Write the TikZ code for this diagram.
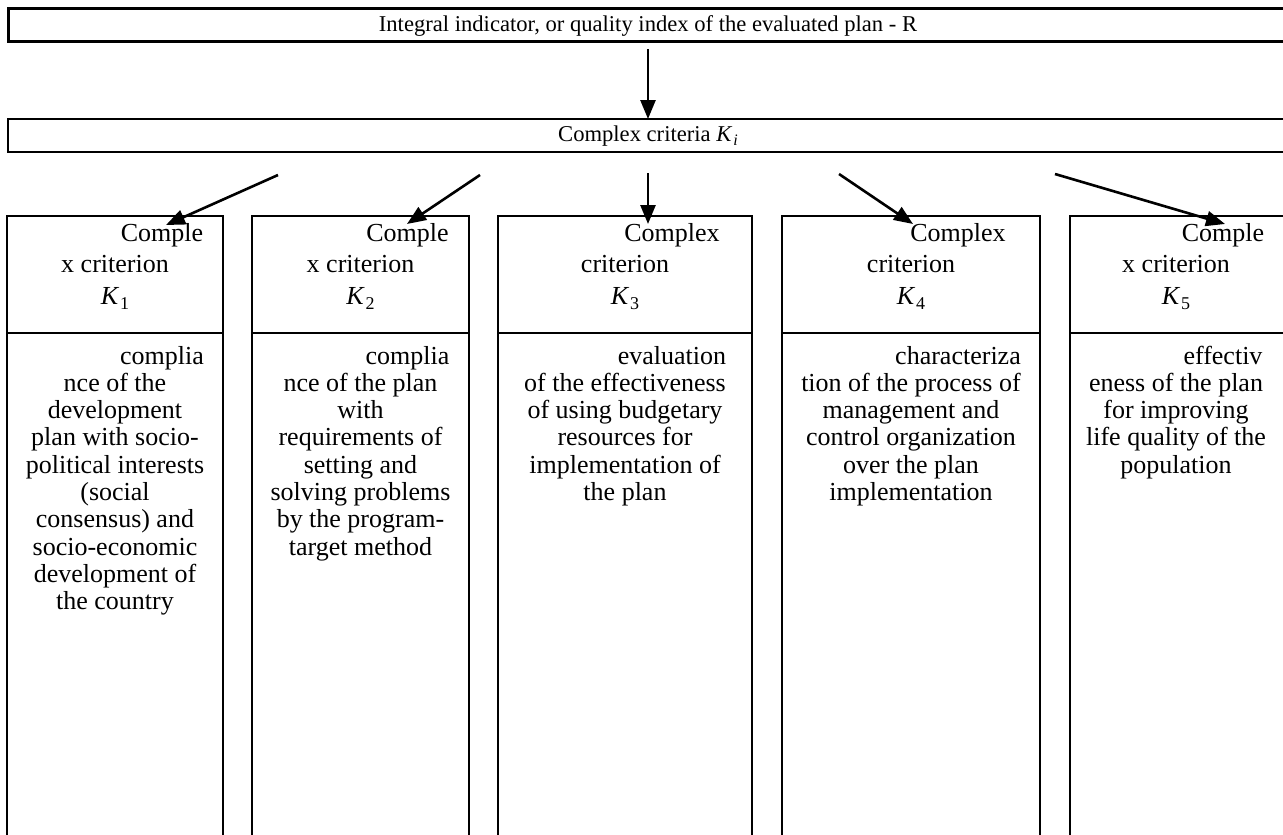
\documentclass[tikz,border=0pt]{standalone}
\usepackage{fontspec}
\setmainfont{Liberation Serif}
\usetikzlibrary{arrows.meta}
\newcommand{\Kk}[1]{\textit{K}\kern1pt\raisebox{-0.22em}{\fontsize{18}{18}\selectfont #1}}
\begin{document}
\begin{tikzpicture}[x=1pt,y=-1pt,
  frame/.style={draw, line width=2pt, outer sep=0pt, inner sep=0pt, anchor=north west},
  bigframe/.style={frame, line width=3pt},
  conn/.style={line width=2.6pt, -{Triangle[length=19pt,width=15pt]}},
  ttl/.style={anchor=base, inner sep=0pt, font=\fontsize{22.6}{26}\selectfont},
  txt/.style={anchor=base, align=center, inner sep=0pt, font=\fontsize{26}{27.3}\selectfont},
  hdr/.style={anchor=base, align=center, inner sep=0pt, font=\fontsize{26}{31.5}\selectfont},
]
\useasboundingbox (0,0) rectangle (1283,835);
% top boxes
\node[bigframe, minimum width=1290pt, minimum height=33pt] (top) at (8.5,8.5) {};
\node[frame, line width=2.5pt, minimum width=1290pt, minimum height=33pt] (mid) at (8,119) {};
\node[ttl] (toptext) at (648,31) {Integral indicator, or quality index of the evaluated plan - R};
\node[ttl] (midtext) at (648,141) {Complex criteria \textit{K}\kern1pt\raisebox{-0.22em}{\fontsize{16}{16}\selectfont\itshape i}};
% lower boxes: headers
\node[frame, minimum width=216pt, minimum height=117pt] (h1) at (7,216) {};
\node[frame, minimum width=217pt, minimum height=117pt] (h2) at (252,216) {};
\node[frame, minimum width=254pt, minimum height=117pt] (h3) at (498,216) {};
\node[frame, minimum width=258pt, minimum height=117pt] (h4) at (782,216) {};
\node[frame, minimum width=216pt, minimum height=117pt] (h5) at (1070,216) {};
% lower boxes: bodies
\node[frame, minimum width=216pt, minimum height=520pt] (b1) at (7,333) {};
\node[frame, minimum width=217pt, minimum height=520pt] (b2) at (252,333) {};
\node[frame, minimum width=254pt, minimum height=520pt] (b3) at (498,333) {};
\node[frame, minimum width=258pt, minimum height=520pt] (b4) at (782,333) {};
\node[frame, minimum width=216pt, minimum height=520pt] (b5) at (1070,333) {};
% header texts (anchored at the baseline of their last line)
\node[hdr] (ht1) at (115,304) {\hspace*{94pt}Comple\\x criterion\\\Kk{1}};
\node[hdr] (ht2) at (360.5,304) {\hspace*{94pt}Comple\\x criterion\\\Kk{2}};
\node[hdr] (ht3) at (625,304) {\hspace*{94pt}Complex\\criterion\\\Kk{3}};
\node[hdr] (ht4) at (911,304) {\hspace*{94pt}Complex\\criterion\\\Kk{4}};
\node[hdr] (ht5) at (1176,304) {\hspace*{94pt}Comple\\x criterion\\\Kk{5}};
% body texts (anchored at the baseline of their last line)
\node[txt] (bt1) at (115,609.7) {\hspace*{94pt}complia\\nce of the\\development\\plan with socio-\\political interests\\(social\\consensus) and\\socio-economic\\development of\\the country};
\node[txt] (bt2) at (360.5,555.1) {\hspace*{94pt}complia\\nce of the plan\\with\\requirements of\\setting and\\solving problems\\by the program-\\target method};
\node[txt] (bt3) at (625,500.5) {\hspace*{94pt}evaluation\\of the effectiveness\\of using budgetary\\resources for\\implementation of\\the plan};
\node[txt] (bt4) at (911,500.5) {\hspace*{94pt}characteriza\\tion of the process of\\management and\\control organization\\over the plan\\implementation};
\node[txt] (bt5) at (1176,473.2) {\hspace*{94pt}effectiv\\eness of the plan\\for improving\\life quality of the\\population};
% connectors
\coordinate (a0) at (648,49);
\coordinate (a1) at (648,119);
\coordinate (s1) at (278,175); \coordinate (t1) at (166,225);
\coordinate (s2) at (480,175); \coordinate (t2) at (407,224);
\coordinate (s3) at (648,173); \coordinate (t3) at (648,224);
\coordinate (s4) at (839,174); \coordinate (t4) at (913,224);
\coordinate (s5) at (1055,174); \coordinate (t5) at (1225,224);
\draw[conn] (a0) -- (a1);
\draw[conn] (s1) -- (t1);
\draw[conn] (s2) -- (t2);
\draw[conn] (s3) -- (t3);
\draw[conn] (s4) -- (t4);
\draw[conn] (s5) -- (t5);
\end{tikzpicture}
\end{document}
